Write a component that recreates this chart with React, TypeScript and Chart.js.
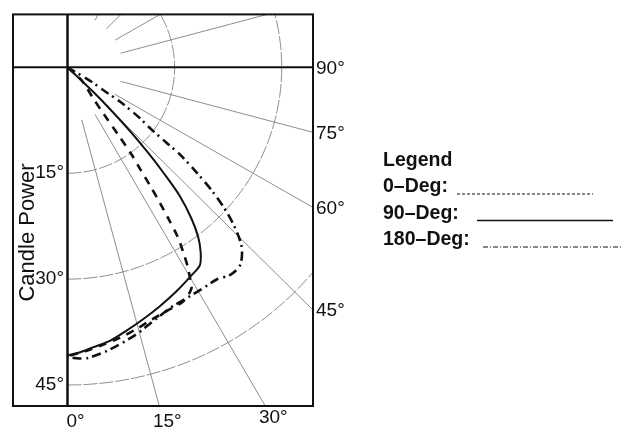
import React, { useEffect, useRef } from "react";
import { Chart, registerables } from "chart.js";

Chart.register(...registerables);

// ---- Data (angle in degrees from nadir, candle power) ----
const seriesNames = ["0–Deg:", "90–Deg:", "180–Deg:"];

const angles0 = [50, 47, 39.3, 37.5, 36.6, 36.0, 35.2, 34.6, 34.0, 33.4, 32.7, 31.8, 30.7, 29.9, 29.0, 26.0, 22.0, 17.8, 14.7, 10.9, 7.2, 3.5, 0];
const cp0 = [0, 2.7, 5.7, 8.2, 12.0, 15.3, 17.7, 20.4, 23.1, 25.7, 28.6, 30.7, 33.1, 34.4, 35.8, 36.9, 37.2, 37.7, 38.3, 39.0, 39.6, 40.3, 40.9];

const angles90 = [55, 46, 45, 44, 43, 42, 40.8, 39.0, 37.3, 35.5, 33.5, 30.5, 25.7, 21.0, 16.6, 12.5, 8.7, 5.2, 2.5, 0];
const cp90 = [0, 5.0, 9.0, 13.0, 16.5, 20.0, 24.0, 27.6, 30.2, 32.1, 33.6, 34.2, 35.2, 36.2, 37.2, 38.2, 39.2, 39.8, 40.4, 40.8];

const angles180 = [65, 58.6, 57.1, 56.5, 54.6, 53.3, 52.4, 51.9, 50.5, 49.05, 47.4, 45.5, 43.6, 40.8, 37.8, 34.8, 31.3, 27.1, 22.85, 18.5, 14.4, 10.6, 7.1, 3.7, 1.5, 0];
const cp180 = [0, 4.0, 6.0, 8.8, 12.45, 14.4, 17.5, 20.0, 23.45, 27.0, 30.3, 33.25, 35.4, 37.0, 37.2, 36.6, 36.6, 36.7, 37.0, 37.9, 39.0, 39.9, 40.7, 41.3, 41.2, 41.0];

const radiusTicks = [15, 30, 45];
const radialAngles = [15, 30, 45, 60, 75, 105, 120, 135, 150];
const rightAngleLabels = [90, 75, 60, 45];
const bottomAngleLabels = [0, 15, 30];

// ---- helpers ----
const D = Math.PI / 180;
const FONT = '"Liberation Sans", Arial, Helvetica, sans-serif';
const INK = "#111";

const toXY = (angles: number[], cps: number[]) =>
  angles.map((a, i) => ({ x: cps[i] * Math.sin(a * D), y: cps[i] * Math.cos(a * D) }));

const arcPoints = (r: number) => {
  const pts: { x: number; y: number }[] = [];
  for (let a = 0; a <= 180; a += 2) pts.push({ x: r * Math.sin(a * D), y: r * Math.cos(a * D) });
  return pts;
};

const rayPoints = (a: number) => [
  { x: 7.7 * Math.sin(a * D), y: 7.7 * Math.cos(a * D) },
  { x: 80 * Math.sin(a * D), y: 80 * Math.cos(a * D) },
];

const legendDash = [[3, 2], [], [5, 2, 1, 2]];
const legendStart = [74, 94, 100];
const legendLen = [136, 136, 140];
const legendWidth = [1, 1.5, 1];

const decorPlugin = {
  id: "decor",
  afterDraw(chart: any) {
    const { ctx, chartArea, scales } = chart;
    const xs = scales.x;
    const ys = scales.y;
    const ox = xs.getPixelForValue(0);
    const oy = ys.getPixelForValue(0);
    const left = ys.left;
    ctx.save();
    ctx.strokeStyle = INK;
    ctx.lineWidth = 2;
    ctx.setLineDash([]);
    ctx.strokeRect(left, chartArea.top, chartArea.right - left, chartArea.bottom - chartArea.top);
    ctx.beginPath();
    ctx.moveTo(left, oy);
    ctx.lineTo(chartArea.right, oy);
    ctx.stroke();
    ctx.lineWidth = 2.5;
    ctx.beginPath();
    ctx.moveTo(ox, chartArea.top);
    ctx.lineTo(ox, chartArea.bottom);
    ctx.stroke();

    ctx.fillStyle = INK;
    ctx.font = `19px ${FONT}`;
    ctx.textAlign = "left";
    ctx.textBaseline = "middle";
    for (const a of rightAngleLabels) {
      const yv = (xs.max * Math.cos(a * D)) / Math.sin(a * D);
      ctx.fillText(`${a}°`, chartArea.right + 3, ys.getPixelForValue(yv) + 1);
    }
    ctx.textAlign = "center";
    for (const a of bottomAngleLabels) {
      const xv = ys.max * Math.tan(a * D);
      ctx.fillText(`${a}°`, xs.getPixelForValue(xv) + 8, chartArea.bottom + 16 - (a >= 30 ? 4 : 0));
    }

    // axis title
    ctx.save();
    ctx.font = `22px ${FONT}`;
    ctx.textBaseline = "alphabetic";
    ctx.translate(33.5, 232.5);
    ctx.rotate(-Math.PI / 2);
    ctx.fillText("Candle Power", 0, 0);
    ctx.restore();

    // legend
    const lx = 383;
    ctx.textAlign = "left";
    ctx.textBaseline = "middle";
    ctx.font = `bold 19.5px ${FONT}`;
    ctx.fillText("Legend", lx, 161);
    const rowY = [187, 213.5, 240];
    seriesNames.forEach((name, i) => {
      ctx.font = `bold 19.5px ${FONT}`;
      ctx.fillText(name, lx, rowY[i]);
      const x0 = lx + legendStart[i];
      ctx.lineWidth = legendWidth[i];
      ctx.setLineDash(legendDash[i]);
      ctx.beginPath();
      ctx.moveTo(x0, rowY[i] + 7);
      ctx.lineTo(x0 + legendLen[i], rowY[i] + 7);
      ctx.stroke();
    });
    ctx.restore();
  },
};

export default function App() {
  const ref = useRef<HTMLCanvasElement | null>(null);
  useEffect(() => {
    if (!ref.current) return;
    const gridColor = "#8e8e8e";
    const datasets: any[] = [
      {
        label: seriesNames[0],
        data: toXY(angles0, cp0),
        borderColor: INK,
        borderWidth: 2.6,
        borderDash: [8, 7],
        tension: 0.3,
        order: 0,
      },
      {
        label: seriesNames[1],
        data: toXY(angles90, cp90),
        borderColor: INK,
        borderWidth: 2,
        tension: 0.3,
        order: 0,
      },
      {
        label: seriesNames[2],
        data: toXY(angles180, cp180),
        borderColor: INK,
        borderWidth: 2.6,
        borderDash: [9, 4, 2, 5],
        tension: 0.3,
        order: 0,
      },
      ...radiusTicks.map((r) => ({
        label: `arc${r}`,
        data: arcPoints(r),
        borderColor: gridColor,
        borderWidth: 1,
        borderDash: [14, 2],
        tension: 0,
        order: 5,
      })),
      ...radialAngles.map((a) => ({
        label: `ray${a}`,
        data: rayPoints(a),
        borderColor: gridColor,
        borderWidth: 1,
        tension: 0,
        order: 5,
      })),
    ].map((d) => ({ ...d, showLine: true, pointRadius: 0, fill: false }));

    const chart = new Chart(ref.current, {
      type: "scatter",
      data: { datasets },
      options: {
        animation: false,
        responsive: true,
        maintainAspectRatio: false,
        events: [],
        layout: { padding: { left: 13, top: 10, right: 313, bottom: 25 } },
        scales: {
          x: { type: "linear", display: false, min: -0.07, max: 34.38 },
          y: {
            type: "linear",
            reverse: true,
            min: -7.49,
            max: 47.97,
            position: "left",
            grid: { display: false, drawTicks: false },
            border: { display: false },
            afterFit: (s: any) => {
              s.width = 54;
            },
            afterBuildTicks: (s: any) => {
              s.ticks = radiusTicks.map((v) => ({ value: v }));
            },
            ticks: {
              padding: 3,
              color: INK,
              font: { family: FONT, size: 19 },
              callback: (v: any) => `${v}°`,
              autoSkip: false,
            },
          },
        },
        plugins: { legend: { display: false }, tooltip: { enabled: false } },
      },
      plugins: [decorPlugin],
    });
    return () => chart.destroy();
  }, []);

  return (
    <div style={{ position: "fixed", left: 0, top: 0, width: 626, height: 431, background: "#fff" }}>
      <canvas ref={ref} />
    </div>
  );
}
